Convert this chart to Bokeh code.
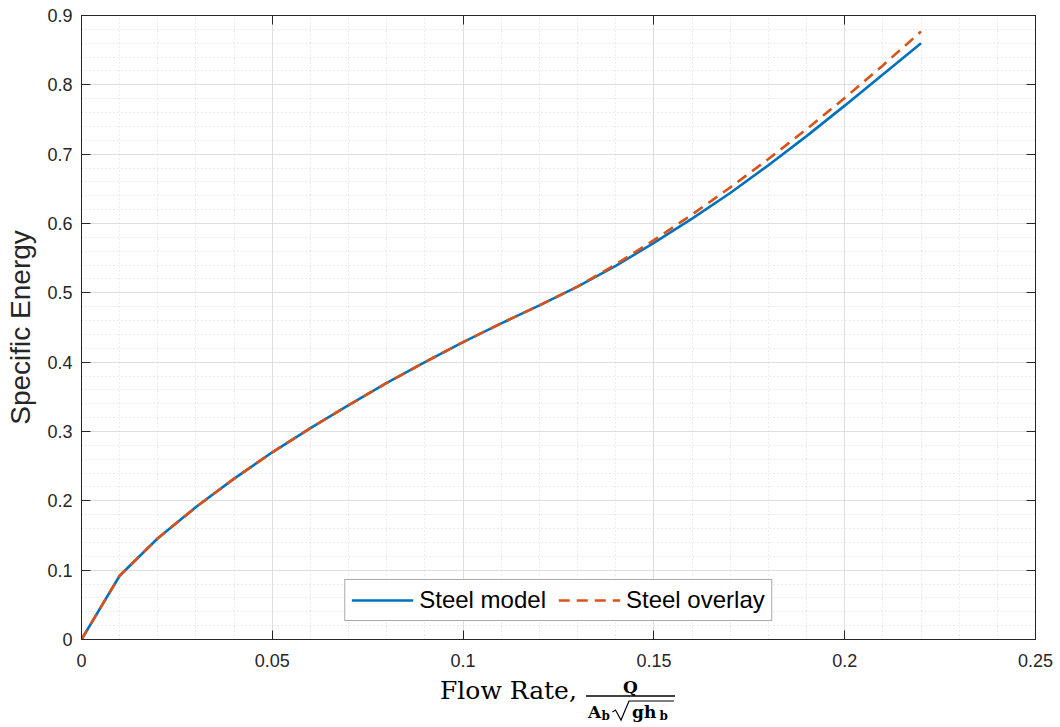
from bokeh.plotting import figure
from bokeh.layouts import column
from bokeh.models import (Range1d, LinearAxis, Legend, LegendItem, Div,
                          FixedTicker, CustomJSTickFormatter)
from bokeh.embed import file_html
from bokeh.resources import INLINE

# ---- data ----
flow_rate = [0.00, 0.01, 0.02, 0.03, 0.04, 0.05, 0.06, 0.07, 0.08, 0.09, 0.10,
             0.11, 0.12, 0.13, 0.14, 0.15, 0.16, 0.17, 0.18, 0.19, 0.20, 0.21, 0.22]
steel_model = [0.000, 0.092, 0.146, 0.191, 0.232, 0.270, 0.305, 0.338, 0.370, 0.400, 0.429,
               0.456, 0.482, 0.509, 0.539, 0.572, 0.607, 0.644, 0.684, 0.726, 0.770, 0.815, 0.860]
steel_overlay = [0.000, 0.092, 0.146, 0.191, 0.232, 0.270, 0.305, 0.338, 0.370, 0.400, 0.429,
                 0.456, 0.482, 0.509, 0.541, 0.576, 0.613, 0.652, 0.693, 0.736, 0.781, 0.828, 0.877]
series_names = ["Steel model", "Steel overlay"]
x_ticks = [0, 0.05, 0.1, 0.15, 0.2, 0.25]
y_ticks = [0, 0.1, 0.2, 0.3, 0.4, 0.5, 0.6, 0.7, 0.8, 0.9]
x_minor = [round(i * 0.01, 2) for i in range(26)]
y_minor = [round(i * 0.02, 2) for i in range(46)]
x_label_text = "Flow Rate,"

AX = "#262626"
SANS = "Liberation Sans"
W = 1056
H1 = 676
H2 = 47

p = figure(width=W, height=H1, output_backend="svg", toolbar_location=None,
           x_range=Range1d(0, 0.25), y_range=Range1d(0, 0.9),
           min_border_left=81, min_border_right=21, min_border_top=15, min_border_bottom=37,
           background_fill_color="white", border_fill_color="white")
p.outline_line_color = AX
p.outline_line_width = 1

xt = FixedTicker(ticks=x_ticks, minor_ticks=x_minor)
yt = FixedTicker(ticks=y_ticks, minor_ticks=y_minor)
p.xaxis.ticker = xt
p.yaxis.ticker = yt

for ax in (p.xaxis[0], p.yaxis[0]):
    ax.major_tick_in = 9
    ax.major_tick_out = 0
    ax.minor_tick_in = 0
    ax.minor_tick_out = 0
    ax.axis_line_color = AX
    ax.major_tick_line_color = AX
    ax.major_label_text_font = SANS
    ax.major_label_text_font_size = "18px"
    ax.major_label_text_color = AX
p.xaxis.major_label_standoff = 14
p.yaxis.major_label_standoff = 9
p.yaxis.axis_label = "Specific Energy"
p.yaxis.axis_label_text_font = SANS
p.yaxis.axis_label_text_font_size = "28px"
p.yaxis.axis_label_text_font_style = "normal"
p.yaxis.axis_label_text_color = AX
p.yaxis.axis_label_standoff = 8

top = LinearAxis(ticker=xt, formatter=CustomJSTickFormatter(code="return ''"),
                 major_tick_in=9, major_tick_out=0,
                 minor_tick_in=0, minor_tick_out=0, major_label_standoff=0,
                 major_label_text_font_size="0px", axis_line_color=AX,
                 major_tick_line_color=AX)
right = LinearAxis(ticker=yt, formatter=CustomJSTickFormatter(code="return ''"),
                   major_tick_in=9, major_tick_out=0,
                   minor_tick_in=0, minor_tick_out=0, major_label_standoff=0,
                   major_label_text_font_size="0px", axis_line_color=AX,
                   major_tick_line_color=AX)
p.add_layout(top, "above")
p.add_layout(right, "right")

p.xgrid.ticker = xt
p.ygrid.ticker = yt
for g in (p.xgrid[0], p.ygrid[0]):
    g.grid_line_color = "#dedede"
    g.grid_line_width = 1
    g.minor_grid_line_color = "#d6d6d6"
    g.minor_grid_line_dash = "1 3"
    g.minor_grid_line_width = 1

r1 = p.line(flow_rate, steel_model, line_color="#0072BD", line_width=2.6)
r2 = p.line(flow_rate, steel_overlay, line_color="#D95319", line_width=2.6, line_dash="11 7")

legend = Legend(items=[LegendItem(label=series_names[0], renderers=[r1]),
                       LegendItem(label=series_names[1], renderers=[r2])],
                location="bottom_center", orientation="horizontal",
                label_text_font=SANS, label_text_font_size="24px", label_text_color="black",
                glyph_width=62, glyph_height=22, padding=6, spacing=12, label_standoff=6,
                margin=18, border_line_color="#555555", border_line_width=1,
                background_fill_color="white", background_fill_alpha=1.0)
p.add_layout(legend)

# ---- x axis label (LaTeX-like fraction) as inline SVG text below the figure ----
def txt(x, y, t, size, bold=False, anchor="start"):
    return ('<text x="%s" y="%s" text-anchor="%s" style="font-family:\'DejaVu Serif\',serif;'
            'font-size:%spx;font-weight:%s;fill:#000;">%s</text>'
            % (x, y, anchor, size, "bold" if bold else "normal", t))

svg = ('<svg xmlns="http://www.w3.org/2000/svg" width="%d" height="%d" '
       'style="display:block;overflow:visible">' % (W, H2))
svg += txt(440, 23, x_label_text, 25)
svg += txt(630.5, 17, "Q", 17, True, "middle")
svg += '<line x1="586" y1="20" x2="675" y2="20" stroke="#000" stroke-width="1.3"/>'
svg += txt(588, 42, "A", 17, True)
svg += txt(601.5, 44, "b", 12, True)
svg += ('<path d="M612.5,36 L615.5,34 L621,44 L629,25 L674,25" fill="none" '
        'stroke="#000" stroke-width="1.2" stroke-linejoin="miter"/>')
svg += txt(632, 42, "gh", 17, True)
svg += txt(659.5, 44, "b", 12, True)
svg += '</svg>'

div = Div(text=svg, width=W, height=H2, margin=0)

layout = column(p, div, spacing=0)
open("out.html", "w").write(file_html(layout, INLINE))
